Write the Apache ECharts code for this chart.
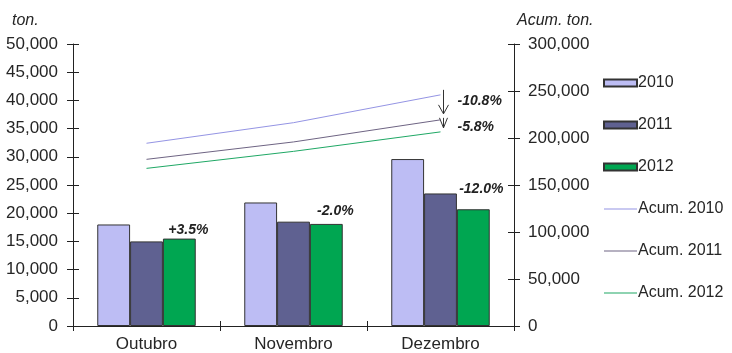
<!DOCTYPE html>
<html>
<head>
<meta charset="utf-8">
<script src="https://cdn.jsdelivr.net/npm/echarts@6/dist/echarts.min.js"></script>
<style>
html,body{margin:0;padding:0;background:#fff;}
#chart{width:732px;height:353px;}
</style>
</head>
<body>
<div id="chart"></div>
<script>
const categories = ['Outubro', 'Novembro', 'Dezembro'];
const ton2010 = [18000, 21900, 29600];
const ton2011 = [15000, 18500, 23500];
const ton2012 = [15500, 18100, 20700];
const acum2010 = [194400, 216300, 245900];
const acum2011 = [177300, 195800, 219300];
const acum2012 = [167700, 185800, 206500];
const barChangeLabels = ['+3.5%', '-2.0%', '-12.0%'];
const acumChangeLabels = ['-10.8%', '-5.8%'];
const leftAxisTicks = [0, 5000, 10000, 15000, 20000, 25000, 30000, 35000, 40000, 45000, 50000];
const rightAxisTicks = [0, 50000, 100000, 150000, 200000, 250000, 300000];

const FONT = "'Liberation Sans', Arial, sans-serif";
const TXT = '#262626';
const AX = '#222';

const chart = echarts.init(document.getElementById('chart'), null, {renderer: 'canvas'});

const fmt = v => v.toLocaleString('en-US');
const barLabelOffsets = [[9, 4], [9, -1], [8, -8.5]];
const LINE_ICON = 'path://M0,0 L33,0 L33,1 L0,1 Z';

function yAx(pos, ticks, show, margin) {
  const interval = ticks[1] - ticks[0];
  return {
    type: 'value', position: pos, min: ticks[0], max: ticks[ticks.length - 1], interval: interval,
    splitLine: {show: false},
    axisLine: {show: show, lineStyle: {color: AX, width: 1}},
    axisTick: {show: true, inside: !show, length: 6, lineStyle: {color: AX}},
    axisLabel: {show: show, color: TXT, fontFamily: FONT, fontSize: 17, margin: margin, formatter: fmt}
  };
}

const option = {
  animation: false,
  backgroundColor: '#fff',
  grid: {left: 73, right: 218, top: 44, bottom: 27},
  legend: {
    orient: 'vertical', left: 603, top: 75, padding: 0, itemWidth: 33, itemHeight: 7, itemGap: 26,
    symbolKeepAspect: true,
    textStyle: {color: TXT, fontFamily: FONT, fontSize: 16, padding: [0, 0, 0, -4]},
    data: [
      {name: '2010', icon: 'rect'}, {name: '2011', icon: 'rect'}, {name: '2012', icon: 'rect'},
      {name: 'Acum. 2010', icon: LINE_ICON}, {name: 'Acum. 2011', icon: LINE_ICON}, {name: 'Acum. 2012', icon: LINE_ICON}
    ]
  },
  xAxis: [
    {type: 'category', data: categories, boundaryGap: true,
     axisLine: {lineStyle: {color: AX, width: 1}},
     axisTick: {show: true, length: 5, lineStyle: {color: AX}},
     axisLabel: {color: TXT, fontFamily: FONT, fontSize: 17, margin: 10}},
    {type: 'category', data: categories, boundaryGap: true, position: 'bottom',
     axisLine: {show: false},
     axisTick: {show: true, inside: true, length: 5, lineStyle: {color: AX}},
     axisLabel: {show: false}}
  ],
  yAxis: [
    yAx('left', leftAxisTicks, true, 15),
    yAx('right', rightAxisTicks, true, 14),
    yAx('left', leftAxisTicks, false, 15),
    yAx('right', rightAxisTicks, false, 14)
  ],
  series: [
    {name: '2010', type: 'bar', data: ton2010, barGap: '0%', barCategoryGap: '33%',
     itemStyle: {color: '#BDBDF4', borderColor: '#333', borderWidth: 1}},
    {name: '2011', type: 'bar', data: ton2011, barGap: '0%', barCategoryGap: '33%',
     itemStyle: {color: '#5F6191', borderColor: '#333', borderWidth: 1}},
    {name: '2012', type: 'bar', barGap: '0%', barCategoryGap: '33%',
     data: ton2012.map((v, i) => ({
       value: v,
       label: {show: true, position: 'top', offset: barLabelOffsets[i], formatter: barChangeLabels[i],
               color: '#222', fontFamily: FONT, fontSize: 14, fontWeight: 'bold', fontStyle: 'italic'}
     })),
     itemStyle: {color: '#00A651', borderColor: '#333', borderWidth: 1}},
    {name: 'Acum. 2010', type: 'line', yAxisIndex: 1, data: acum2010, symbol: 'none',
     lineStyle: {color: '#9494E4', width: 1}, itemStyle: {color: '#9494E4', borderWidth: 0}},
    {name: 'Acum. 2011', type: 'line', yAxisIndex: 1, data: acum2011, symbol: 'none',
     lineStyle: {color: '#6E6483', width: 1}, itemStyle: {color: '#6E6483', borderWidth: 0}},
    {name: 'Acum. 2012', type: 'line', yAxisIndex: 1, data: acum2012, symbol: 'none',
     lineStyle: {color: '#1FA865', width: 1}, itemStyle: {color: '#1FA865', borderWidth: 0}}
  ]
};
chart.setOption(option);

// Annotations anchored to the library's own scales
const p10 = chart.convertToPixel({seriesIndex: 3}, [2, acum2010[2]]);
const p11 = chart.convertToPixel({seriesIndex: 4}, [2, acum2011[2]]);
const ax = p10[0] + 3;
const lblStyle = {fill: '#222', font: "italic bold 14px " + FONT, textVerticalAlign: 'middle'};
const arrowStyle = {stroke: '#333', lineWidth: 1, fill: null};
chart.setOption({
  graphic: [
    {type: 'text', left: 12, top: 13, style: {text: 'ton.', fill: TXT, font: 'italic 16px ' + FONT}},
    {type: 'text', left: 517, top: 13, style: {text: 'Acum. ton.', fill: TXT, font: 'italic 16px ' + FONT}},
    {type: 'line', shape: {x1: ax, y1: p10[1] - 5, x2: ax, y2: p10[1] + 19}, style: arrowStyle},
    {type: 'polyline', shape: {points: [[ax - 5, p10[1] + 10], [ax, p10[1] + 19], [ax + 5, p10[1] + 10]]}, style: arrowStyle},
    {type: 'line', shape: {x1: ax, y1: p11[1] - 2, x2: ax, y2: p11[1] + 8}, style: arrowStyle},
    {type: 'polyline', shape: {points: [[ax - 4, p11[1] - 2], [ax, p11[1] + 8], [ax + 4, p11[1] - 2]]}, style: arrowStyle},
    {type: 'text', x: p10[0] + 17, y: p10[1] + 6, style: Object.assign({text: acumChangeLabels[0]}, lblStyle)},
    {type: 'text', x: p11[0] + 17, y: p11[1] + 7, style: Object.assign({text: acumChangeLabels[1]}, lblStyle)}
  ]
});
</script>
</body>
</html>
